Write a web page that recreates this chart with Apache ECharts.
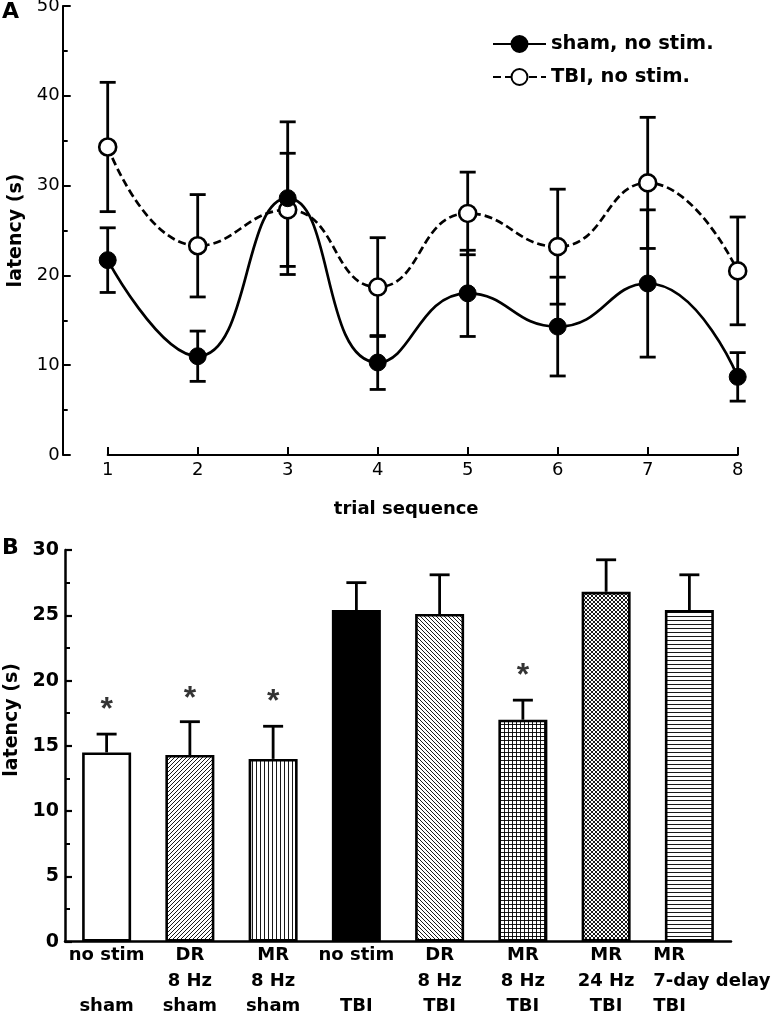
<!DOCTYPE html>
<html><head><meta charset="utf-8">
<script src="https://cdn.jsdelivr.net/npm/echarts@6/dist/echarts.min.js"></script>
<style>html,body{margin:0;padding:0;background:#fff;}#c{width:771px;height:1014px;}</style>
</head><body><div id="c"></div>
<script>
// ---------- Panel A data ----------
const trials   = [1, 2, 3, 4, 5, 6, 7, 8];
const shamMean = [21.7, 11.0, 28.6, 10.3, 18.0, 14.3, 19.1, 8.7];
const shamErr  = [3.6, 2.8, 8.5, 3.0, 4.8, 5.5, 8.2, 2.7];
const tbiMean  = [34.3, 23.3, 27.3, 18.7, 26.9, 23.2, 30.3, 20.5];
const tbiErr   = [7.2, 5.7, 6.3, 5.5, 4.6, 6.4, 7.3, 6.0];
const seriesNamesA = ['sham, no stim.', 'TBI, no stim.'];

// ---------- Panel B data ----------
const groupLine1 = ['no stim', 'DR', 'MR', 'no stim', 'DR', 'MR', 'MR', 'MR'];
const groupLine2 = ['', '8 Hz', '8 Hz', '', '8 Hz', '8 Hz', '24 Hz', '7-day delay'];
const groupLine3 = ['sham', 'sham', 'sham', 'TBI', 'TBI', 'TBI', 'TBI', 'TBI'];
const barMean = [14.5, 14.3, 14.0, 25.4, 25.1, 17.0, 26.8, 25.4];
const barErr  = [1.4, 2.55, 2.5, 2.1, 3.0, 1.5, 2.45, 2.7];
const starY   = [18.4, 19.3, 19.05, null, null, 21.0, null, null];

const FONT = "'DejaVu Sans', 'Liberation Sans', Arial, sans-serif";

// ---------- fill patterns ----------
function makePattern(kind) {
  if (kind === 'white') return '#fff';
  if (kind === 'black') return '#000';
  const s = 4;
  const c = document.createElement('canvas');
  c.width = s; c.height = s;
  const g = c.getContext('2d');
  g.fillStyle = '#fff'; g.fillRect(0, 0, s, s);
  g.strokeStyle = '#000'; g.lineWidth = 0.9;
  g.beginPath();
  if (kind === 'fwd' || kind === 'cross') {
    g.moveTo(-1, s + 1); g.lineTo(s + 1, -1);
    g.moveTo(-1, 1); g.lineTo(1, -1);
    g.moveTo(s - 1, s + 1); g.lineTo(s + 1, s - 1);
  }
  if (kind === 'back' || kind === 'cross') {
    g.moveTo(-1, -1); g.lineTo(s + 1, s + 1);
    g.moveTo(s - 1, -1); g.lineTo(s + 1, 1);
    g.moveTo(-1, s - 1); g.lineTo(1, s + 1);
  }
  if (kind === 'vert' || kind === 'grid') {
    g.moveTo(0.5, 0); g.lineTo(0.5, s);
  }
  if (kind === 'horiz' || kind === 'grid') {
    g.moveTo(0, 0.5); g.lineTo(s, 0.5);
  }
  g.stroke();
  return { image: c, repeat: 'repeat' };
}
const barKinds = ['white', 'fwd', 'vert', 'black', 'back', 'grid', 'cross', 'horiz'];

const chart = echarts.init(document.getElementById('c'), null, { renderer: 'canvas' });

function errA(params, api) {
  const x = api.value(0), m = api.value(1), e = api.value(2);
  const t = api.coord([x, m + e]), b = api.coord([x, m - e]);
  const hw = 8, st = { stroke: '#000', lineWidth: 2.8 };
  return { type: 'group', children: [
    { type: 'line', shape: { x1: t[0], y1: t[1], x2: b[0], y2: b[1] }, style: st },
    { type: 'line', shape: { x1: t[0] - hw, y1: t[1], x2: t[0] + hw, y2: t[1] }, style: st },
    { type: 'line', shape: { x1: b[0] - hw, y1: b[1], x2: b[0] + hw, y2: b[1] }, style: st }
  ]};
}
function errB(params, api) {
  const x = api.value(0), m = api.value(1), e = api.value(2);
  const t = api.coord([x, m + e]), b = api.coord([x, m]);
  const hw = 10, st = { stroke: '#000', lineWidth: 2.8 };
  return { type: 'group', children: [
    { type: 'line', shape: { x1: t[0], y1: t[1], x2: b[0], y2: b[1] }, style: st },
    { type: 'line', shape: { x1: t[0] - hw, y1: t[1], x2: t[0] + hw, y2: t[1] }, style: st }
  ]};
}

const labelB = groupLine1.map((l1, i) => {
  const sty = i === 7 ? 'l' : 'c';
  const l2 = groupLine2[i] === '' ? ' ' : groupLine2[i];
  return '{' + sty + '|' + l1 + '}\n{' + sty + '|' + l2 + '}\n{' + sty + '|' + groupLine3[i] + '}';
});

const option = {
  animation: false,
  textStyle: { fontFamily: FONT, color: '#000' },
  title: [
    { text: 'A', left: 2, top: 1, padding: 0, textStyle: { fontFamily: FONT, fontSize: 22, fontWeight: 'bold', color: '#000' } },
    { text: 'B', left: 2, top: 537, padding: 0, textStyle: { fontFamily: FONT, fontSize: 22, fontWeight: 'bold', color: '#000' } }
  ],
  legend: {
    data: seriesNamesA, orient: 'vertical', left: 492, top: 34, padding: 0,
    itemWidth: 53, itemHeight: 20, itemGap: 13,
    textStyle: { fontFamily: FONT, fontSize: 19.5, fontWeight: 'bold', color: '#000' },
    selectedMode: false
  },
  grid: [
    { left: 107.7, right: 33.3, top: 6, height: 449, outerBoundsMode: 'none', containLabel: false },
    { left: 65, right: 40, top: 550, height: 391.7, outerBoundsMode: 'none', containLabel: false }
  ],
  xAxis: [
    { gridIndex: 0, type: 'value', min: 1, max: 8, interval: 1,
      name: 'trial sequence', nameLocation: 'middle', nameGap: 45,
      nameTextStyle: { fontFamily: FONT, fontSize: 18, fontWeight: 'bold', color: '#000', padding: [0, 33, 0, 0] },
      axisLine: { show: true, lineStyle: { color: '#000', width: 2 } },
      axisTick: { show: true, inside: true, length: 8, lineStyle: { color: '#000', width: 2 } },
      axisLabel: { margin: 6, fontSize: 18, color: '#000', fontFamily: FONT },
      splitLine: { show: false } },
    { gridIndex: 1, type: 'category', data: labelB,
      axisLine: { show: true, lineStyle: { color: '#000', width: 2.5 } },
      axisTick: { show: false },
      axisLabel: { interval: 0, margin: 1, formatter: (v) => v,
        rich: {
          c: { fontFamily: FONT, fontSize: 18, fontWeight: 'bold', color: '#000', lineHeight: 25.5, align: 'center' },
          l: { fontFamily: FONT, fontSize: 18, fontWeight: 'bold', color: '#000', lineHeight: 25.5, align: 'left', padding: [0, 0, 0, 45] }
        } },
      splitLine: { show: false } }
  ],
  yAxis: [
    { gridIndex: 0, type: 'value', min: 0, max: 50, interval: 10, offset: 45,
      name: 'latency (s)', nameLocation: 'middle', nameGap: 36,
      nameTextStyle: { fontFamily: FONT, fontSize: 19, fontWeight: 'bold', color: '#000' },
      axisLine: { show: true, lineStyle: { color: '#000', width: 2 } },
      axisTick: { show: true, inside: true, length: 8, lineStyle: { color: '#000', width: 2 } },
      minorTick: { show: true, splitNumber: 2, length: 5, lineStyle: { color: '#000', width: 2 } },
      axisLabel: { margin: 3, fontSize: 18, color: '#000', fontFamily: FONT },
      splitLine: { show: false } },
    { gridIndex: 1, type: 'value', min: 0, max: 30, interval: 5,
      name: 'latency (s)', nameLocation: 'middle', nameGap: 33,
      nameTextStyle: { fontFamily: FONT, fontSize: 19, fontWeight: 'bold', color: '#000', padding: [0, 0, 0, 52] },
      axisLine: { show: true, lineStyle: { color: '#000', width: 2.5 } },
      axisTick: { show: true, inside: true, length: 7, lineStyle: { color: '#000', width: 2.2 } },
      minorTick: { show: true, splitNumber: 2, length: 5, lineStyle: { color: '#000', width: 2 } },
      axisLabel: { margin: 6, fontSize: 19, fontWeight: 'bold', color: '#000', fontFamily: FONT },
      splitLine: { show: false } }
  ],
  series: [
    { type: 'custom', name: 'errSham', xAxisIndex: 0, yAxisIndex: 0, z: 1, silent: true,
      renderItem: errA, encode: { x: 0, y: 1 },
      data: trials.map((t, i) => [t, shamMean[i], shamErr[i]]) },
    { type: 'custom', name: 'errTbi', xAxisIndex: 0, yAxisIndex: 0, z: 1, silent: true,
      renderItem: errA, encode: { x: 0, y: 1 },
      data: trials.map((t, i) => [t, tbiMean[i], tbiErr[i]]) },
    { type: 'line', name: seriesNamesA[1], xAxisIndex: 0, yAxisIndex: 0, z: 3,
      smooth: 0.5, symbol: 'circle', symbolSize: 17,
      itemStyle: { color: '#fff', borderColor: '#000', borderWidth: 2.6 },
      lineStyle: { color: '#000', width: 2.7, type: [8, 4] },
      data: trials.map((t, i) => [t, tbiMean[i]]) },
    { type: 'line', name: seriesNamesA[0], xAxisIndex: 0, yAxisIndex: 0, z: 4,
      smooth: 0.5, symbol: 'circle', symbolSize: 17,
      itemStyle: { color: '#000', borderColor: '#000', borderWidth: 1 },
      lineStyle: { color: '#000', width: 2.7 },
      data: trials.map((t, i) => [t, shamMean[i]]) },
    { type: 'bar', name: 'bars', xAxisIndex: 1, yAxisIndex: 1, barWidth: 49, silent: true,
      data: barMean.map((v, i) => ({ value: v, itemStyle: { color: makePattern(barKinds[i]), borderColor: '#000', borderWidth: 2.6 } })) },
    { type: 'custom', name: 'errB', xAxisIndex: 1, yAxisIndex: 1, z: 3, silent: true,
      renderItem: errB, encode: { x: 0, y: 1 },
      data: barMean.map((m, i) => [i, m, barErr[i]]) },
    { type: 'scatter', name: 'stars', xAxisIndex: 1, yAxisIndex: 1, symbolSize: 0, silent: true,
      label: { show: true, position: 'inside', formatter: '*', offset: [0, 9], fontFamily: "'Liberation Sans', Arial, sans-serif", fontSize: 32, fontWeight: 'bold', color: '#000' },
      data: starY.map((y, i) => [i, y]).filter(d => d[1] !== null) }
  ]
};
chart.setOption(option);
</script>
</body></html>
